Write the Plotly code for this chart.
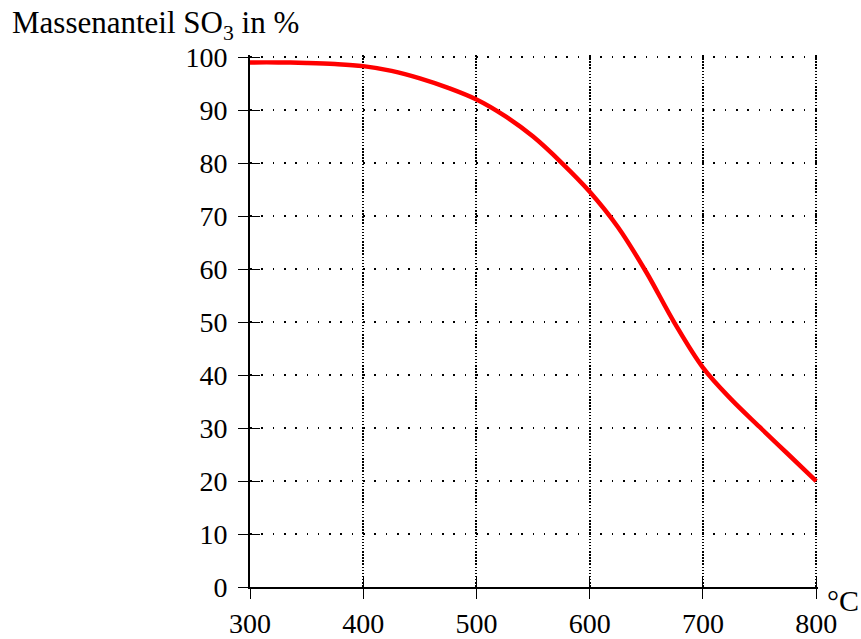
import plotly.graph_objects as go

# Mass fraction of SO3 in the equilibrium mixture versus temperature
temps_c = [300, 325, 350, 375, 400, 425, 450, 475, 500, 525, 550, 575,
           600, 625, 650, 675, 700, 725, 750, 775, 800]
so3_pct = [99.0, 99.0, 98.9, 98.7, 98.3, 97.4, 96.0, 94.2, 92.0, 88.9, 85.0, 80.1,
           74.6, 67.9, 59.4, 49.8, 41.4, 35.4, 30.2, 25.1, 20.0]

x_ticks = [300, 400, 500, 600, 700, 800]
y_ticks = [0, 10, 20, 30, 40, 50, 60, 70, 80, 90, 100]

FONT = "Liberation Serif"
TICK_SIZE = 28

fig = go.Figure()
fig.add_trace(go.Scatter(
    x=temps_c, y=so3_pct, mode="lines",
    line=dict(color="#ff0000", width=4.5, shape="spline", smoothing=1.0),
    hoverinfo="skip", showlegend=False,
))

axis_common = dict(
    showline=True, linecolor="black", linewidth=1.8, automargin=False,
    ticks="outside", ticklen=10, tickwidth=1.4, tickcolor="black",
    zeroline=False, showgrid=True, gridcolor="black", gridwidth=1.5,
    tickfont=dict(family=FONT, size=TICK_SIZE, color="black"),
)

fig.update_layout(
    width=861, height=639,
    margin=dict(l=250, r=43, t=55, b=52),
    paper_bgcolor="white", plot_bgcolor="white",
    font=dict(family=FONT, color="black"),
    # ranges reach a little past the last tick so the outer grid lines are kept
    xaxis=dict(range=[300, 801.6], tickvals=x_ticks, griddash="1.5px,1.6px",
               ticklabelstandoff=0, **axis_common),
    yaxis=dict(range=[0, 100.4], tickvals=y_ticks, griddash="1.6px,9.7px",
               ticklabelstandoff=5, **axis_common),
    # second pair of axes carries the inner half of each crossing tick
    xaxis2=dict(range=[300, 801.6], tickvals=x_ticks, overlaying="x", anchor="y",
                side="bottom", ticks="inside", ticklen=10, tickwidth=1.4,
                tickcolor="black", showticklabels=False, showgrid=False,
                showline=False, zeroline=False, automargin=False),
    yaxis2=dict(range=[0, 100.4], tickvals=y_ticks, overlaying="y", anchor="x",
                side="left", ticks="inside", ticklen=10, tickwidth=1.4,
                tickcolor="black", showticklabels=False, showgrid=False,
                showline=False, zeroline=False, automargin=False),
    annotations=[
        dict(text="Massenanteil SO<sub>3</sub> in %", xref="paper", yref="paper",
             x=-0.422, y=1, xanchor="left", yanchor="middle", yshift=30,
             showarrow=False, font=dict(family=FONT, size=31, color="black")),
        dict(text="°C", xref="x", yref="y", x=800, y=0, xanchor="left",
             yanchor="middle", xshift=9, yshift=-13, showarrow=False,
             font=dict(family=FONT, size=30, color="black")),
    ],
)

# invisible helper trace so the overlay axes render
fig.add_trace(go.Scatter(x=[None], y=[None], xaxis="x2", yaxis="y2",
                         showlegend=False, hoverinfo="skip"))

fig.write_html("out.html")
